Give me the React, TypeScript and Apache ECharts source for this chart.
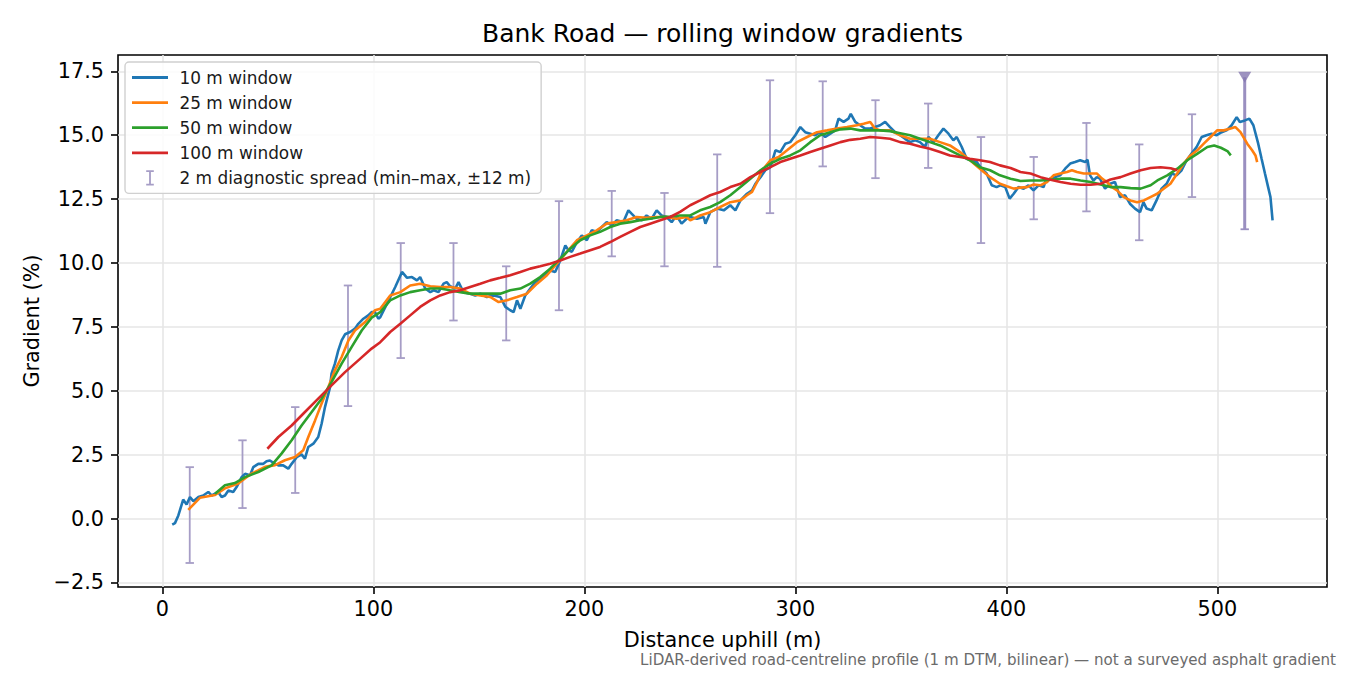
import React, { useEffect, useRef } from 'react';
import * as echarts from 'echarts';

// rolling-window gradients, [distance m, gradient %]
const win10: [number, number][] = [
  [4.7, -0.24], [6.0, -0.18], [7.6, 0.12], [9.9, 0.74], [11.5, 0.55], [13.1, 0.84], [14.7, 0.68], [17.1, 0.84],
  [19.4, 0.9], [21.8, 1.04], [23.4, 0.9], [25.0, 0.97], [26.5, 1.04], [28.1, 0.84], [29.7, 0.9], [31.3, 1.1],
  [33.6, 1.04], [35.2, 1.23], [37.6, 1.62], [39.2, 1.75], [41.6, 1.69], [43.1, 2.01], [45.5, 2.14], [47.9, 2.14],
  [49.4, 2.24], [51.0, 2.27], [53.4, 2.14], [55.0, 2.08], [57.3, 2.08], [59.7, 1.95], [61.3, 2.14], [63.7, 2.4],
  [66.0, 2.51], [67.6, 2.34], [69.2, 2.8], [71.6, 2.93], [73.9, 3.19], [75.5, 3.71], [77.1, 4.36], [79.5, 5.14],
  [80.2, 5.67], [81.8, 6.06], [83.4, 6.58], [85.0, 6.97], [86.6, 7.21], [89.0, 7.3], [91.3, 7.43], [92.9, 7.62],
  [95.3, 7.82], [97.6, 7.95], [99.2, 8.08], [100.8, 8.08], [102.4, 7.82], [103.3, 7.88], [106.5, 8.41], [110.4, 9.06],
  [113.6, 9.65], [116.0, 9.42], [118.3, 9.45], [120.7, 9.32], [122.2, 9.45], [124.6, 9.0], [127.0, 8.86], [128.6, 8.93],
  [130.9, 8.86], [133.3, 9.19], [134.8, 9.25], [136.4, 9.09], [138.8, 9.0], [140.4, 9.25], [142.7, 8.86], [145.9, 8.8],
  [148.3, 8.73], [150.7, 8.8], [153.8, 8.67], [157.0, 8.73], [160.2, 8.67], [162.6, 8.28], [164.9, 8.15], [166.5, 8.08],
  [168.1, 8.54], [169.7, 8.21], [172.0, 8.73], [174.4, 9.0], [176.8, 9.25], [179.1, 9.39], [181.5, 9.52], [183.8, 9.71],
  [186.2, 9.65], [188.6, 10.1], [191.0, 10.69], [192.5, 10.5], [194.1, 10.44], [196.5, 10.82], [198.8, 11.08], [201.2, 10.89],
  [203.5, 11.28], [205.9, 11.22], [208.3, 11.41], [210.6, 11.6], [213.0, 11.47], [215.3, 11.67], [218.5, 11.6], [220.9, 12.06],
  [222.4, 11.93], [224.8, 11.73], [227.2, 11.67], [229.5, 11.86], [231.9, 11.73], [234.3, 12.06], [236.6, 11.86], [239.0, 11.8],
  [241.4, 11.6], [243.7, 11.86], [246.1, 11.54], [248.5, 11.73], [250.2, 11.8], [253.4, 11.73], [256.6, 11.8], [257.4, 11.54],
  [259.7, 11.99], [262.9, 12.13], [266.1, 12.06], [269.2, 12.26], [271.6, 12.06], [274.0, 12.45], [277.1, 12.71], [279.5, 12.84],
  [281.1, 13.1], [283.5, 13.36], [285.8, 13.63], [288.2, 13.75], [290.6, 14.41], [292.9, 14.34], [295.3, 14.67], [297.6, 14.73],
  [300.0, 15.0], [302.4, 15.32], [304.7, 15.12], [307.1, 15.06], [309.5, 15.0], [311.8, 15.12], [314.2, 14.93], [316.6, 15.06],
  [318.9, 15.19], [320.5, 15.65], [322.9, 15.52], [325.2, 15.65], [326.3, 15.84], [328.4, 15.52], [330.7, 15.39], [333.1, 15.26],
  [335.5, 15.26], [337.8, 15.32], [340.2, 15.39], [342.6, 15.52], [344.9, 15.32], [347.3, 15.12], [349.7, 15.0], [352.0, 14.86],
  [354.4, 14.73], [356.8, 14.8], [359.1, 14.73], [361.5, 14.54], [363.1, 14.93], [365.5, 14.73], [367.8, 15.0], [370.2, 15.26],
  [372.6, 15.06], [374.9, 14.8], [376.5, 14.93], [378.9, 14.54], [381.2, 14.08], [383.6, 14.02], [386.0, 13.95], [388.3, 13.69],
  [390.7, 13.5], [393.1, 13.04], [395.4, 12.97], [397.2, 13.04], [399.5, 12.97], [401.6, 12.52], [403.5, 12.71], [405.8, 12.97],
  [408.2, 12.91], [410.5, 13.04], [412.9, 12.84], [415.3, 13.04], [417.7, 12.97], [418.4, 13.17], [420.8, 13.3], [423.2, 13.36],
  [425.5, 13.43], [427.9, 13.69], [430.3, 13.89], [432.6, 13.95], [435.0, 14.02], [437.4, 13.95], [438.5, 14.04], [439.7, 13.43],
  [441.3, 13.23], [442.9, 13.36], [444.4, 13.3], [446.8, 12.91], [449.2, 13.1], [451.5, 13.17], [453.9, 12.58], [456.3, 12.65],
  [458.6, 12.32], [461.0, 12.13], [463.4, 11.99], [465.0, 12.38], [466.5, 12.13], [468.9, 12.06], [471.2, 12.45], [473.6, 12.91],
  [476.0, 13.1], [478.4, 13.5], [480.7, 13.43], [483.1, 13.63], [485.5, 14.02], [487.8, 14.28], [490.2, 14.54], [492.6, 14.93],
  [494.9, 15.0], [497.3, 15.06], [499.7, 15.0], [502.1, 15.12], [504.4, 15.19], [506.8, 15.39], [509.2, 15.71], [510.7, 15.52],
  [513.1, 15.58], [515.2, 15.65], [517.1, 15.39], [519.4, 14.67], [521.0, 14.08], [522.6, 13.5], [524.1, 12.97], [525.2, 12.58],
  [526.2, 11.67],
];

const win25: [number, number][] = [
  [12.3, 0.34], [17.8, 0.81], [25.0, 0.92], [29.7, 1.18], [36.0, 1.37], [42.3, 1.76], [48.7, 2.02], [53.4, 2.09],
  [58.1, 2.28], [62.9, 2.41], [66.8, 2.67], [69.2, 3.19], [72.4, 3.84], [75.5, 4.5], [78.7, 5.15], [81.8, 5.8],
  [85.0, 6.32], [88.2, 6.97], [91.3, 7.36], [96.1, 7.69], [100.8, 8.15], [103.3, 8.21], [108.0, 8.73], [112.8, 8.86],
  [117.5, 9.12], [122.2, 9.19], [127.0, 9.09], [131.7, 9.06], [136.4, 9.06], [141.2, 9.0], [145.9, 8.8], [150.7, 8.73],
  [155.4, 8.67], [159.4, 8.47], [163.3, 8.54], [168.1, 8.67], [172.8, 8.8], [177.6, 9.19], [182.3, 9.52], [187.0, 9.97],
  [191.8, 10.44], [196.5, 10.89], [201.2, 11.08], [205.9, 11.28], [210.6, 11.54], [215.3, 11.6], [220.1, 11.67], [224.8, 11.8],
  [229.5, 11.77], [234.3, 11.8], [239.0, 11.8], [243.7, 11.73], [248.5, 11.8], [250.2, 11.67], [254.9, 11.86], [259.7, 11.99],
  [264.4, 12.19], [269.2, 12.38], [274.0, 12.45], [277.1, 12.65], [279.5, 12.78], [281.9, 13.17], [284.3, 13.63], [288.2, 14.02],
  [292.1, 14.15], [296.1, 14.41], [300.8, 14.73], [305.6, 14.93], [310.3, 15.12], [315.1, 15.19], [319.8, 15.26], [324.5, 15.32],
  [329.2, 15.39], [332.4, 15.45], [335.5, 15.52], [337.8, 15.26], [340.2, 15.19], [344.9, 15.19], [349.7, 15.0], [354.4, 14.86],
  [359.1, 14.86], [363.8, 14.86], [368.6, 14.73], [373.3, 14.6], [378.1, 14.34], [382.8, 14.02], [387.5, 13.69], [392.3, 13.36],
  [397.0, 13.1], [400.3, 13.0], [403.5, 12.91], [406.6, 12.95], [409.8, 12.97], [413.0, 13.07], [416.1, 13.04], [419.3, 13.17],
  [422.4, 13.43], [425.6, 13.5], [428.8, 13.56], [431.1, 13.63], [433.5, 13.56], [436.7, 13.5], [439.8, 13.5], [443.0, 13.5],
  [445.4, 13.3], [447.7, 13.17], [450.1, 12.97], [452.5, 12.84], [455.7, 12.58], [458.8, 12.45], [462.0, 12.38], [465.2, 12.45],
  [468.3, 12.58], [471.5, 12.71], [474.6, 12.91], [477.8, 13.1], [481.0, 13.5], [484.1, 13.89], [487.3, 14.21], [490.5, 14.41],
  [493.6, 14.67], [496.8, 14.93], [499.9, 15.19], [503.1, 15.19], [506.3, 15.26], [508.6, 15.32], [511.0, 15.12], [514.2, 14.67],
  [516.5, 14.41], [518.1, 14.21], [518.9, 13.95],
];

const win50: [number, number][] = [
  [25.0, 0.97], [29.7, 1.3], [34.4, 1.39], [39.2, 1.62], [45.5, 1.82], [51.8, 2.08], [56.5, 2.54], [61.3, 3.06],
  [66.0, 3.64], [70.8, 4.17], [75.5, 4.69], [80.2, 5.34], [85.0, 6.06], [89.7, 6.71], [94.5, 7.36], [99.2, 7.86],
  [103.3, 8.08], [108.0, 8.54], [112.8, 8.73], [117.5, 8.86], [122.2, 8.93], [127.0, 9.0], [131.7, 9.0], [136.4, 8.93],
  [141.2, 8.86], [145.9, 8.8], [150.7, 8.8], [155.4, 8.8], [160.2, 8.8], [164.9, 8.93], [169.7, 9.0], [174.4, 9.19],
  [179.1, 9.45], [183.8, 9.78], [188.6, 10.17], [193.3, 10.56], [198.1, 10.89], [202.8, 11.08], [207.5, 11.22], [212.3, 11.41],
  [217.0, 11.54], [221.8, 11.6], [226.5, 11.67], [231.2, 11.73], [236.0, 11.8], [240.7, 11.82], [245.4, 11.86], [250.2, 11.86],
  [254.9, 12.06], [259.7, 12.19], [264.4, 12.38], [269.2, 12.65], [274.0, 12.97], [278.7, 13.3], [283.5, 13.63], [288.2, 13.89],
  [292.9, 14.08], [297.6, 14.21], [302.4, 14.41], [307.1, 14.73], [311.8, 15.0], [316.6, 15.12], [321.4, 15.23], [326.1, 15.26],
  [330.8, 15.19], [335.5, 15.19], [340.2, 15.19], [344.9, 15.16], [349.7, 15.08], [354.4, 15.0], [359.1, 14.86], [363.8, 14.73],
  [368.6, 14.6], [373.3, 14.41], [378.1, 14.21], [382.8, 14.02], [387.5, 13.75], [392.3, 13.63], [397.0, 13.43], [402.0, 13.3],
  [406.7, 13.21], [411.5, 13.23], [416.2, 13.23], [421.0, 13.26], [425.7, 13.3], [430.5, 13.3], [435.2, 13.23], [440.0, 13.17],
  [444.7, 13.07], [449.4, 12.97], [454.2, 12.97], [458.9, 12.93], [463.7, 12.91], [468.4, 13.04], [471.6, 13.23], [476.3, 13.43],
  [481.1, 13.69], [485.8, 14.02], [490.6, 14.28], [495.3, 14.54], [498.5, 14.6], [501.7, 14.51], [504.8, 14.38], [506.4, 14.21],
];

const win100: [number, number][] = [
  [49.8, 2.73], [55.0, 3.19], [61.3, 3.64], [67.6, 4.17], [73.9, 4.69], [80.2, 5.21], [86.6, 5.73], [92.9, 6.19],
  [99.2, 6.65], [103.3, 6.9], [108.0, 7.3], [112.8, 7.62], [117.5, 7.95], [122.2, 8.28], [127.0, 8.54], [131.7, 8.73],
  [136.4, 8.86], [141.2, 8.93], [145.9, 9.06], [150.7, 9.19], [155.4, 9.32], [160.2, 9.42], [164.9, 9.52], [169.7, 9.65],
  [174.4, 9.78], [179.1, 9.87], [183.8, 9.97], [188.6, 10.1], [193.3, 10.24], [198.1, 10.37], [202.8, 10.5], [207.5, 10.63],
  [212.3, 10.82], [217.0, 11.02], [221.8, 11.22], [226.5, 11.41], [231.2, 11.54], [236.0, 11.67], [240.7, 11.8], [245.4, 12.0],
  [250.2, 12.26], [254.9, 12.45], [259.7, 12.65], [264.4, 12.78], [269.2, 12.97], [274.0, 13.1], [278.7, 13.36], [283.5, 13.56],
  [288.2, 13.75], [292.9, 13.95], [297.6, 14.08], [302.4, 14.21], [307.1, 14.34], [311.8, 14.47], [316.6, 14.6], [321.4, 14.73],
  [326.1, 14.82], [330.8, 14.86], [335.5, 14.93], [340.2, 14.9], [344.9, 14.86], [349.7, 14.73], [354.4, 14.67], [359.1, 14.56],
  [363.8, 14.47], [368.6, 14.34], [373.3, 14.21], [378.1, 14.15], [382.8, 14.08], [387.5, 14.02], [392.3, 13.95], [397.0, 13.82],
  [402.0, 13.72], [406.7, 13.56], [411.5, 13.5], [416.2, 13.36], [421.0, 13.26], [425.7, 13.17], [430.5, 13.1], [435.2, 13.06],
  [440.0, 13.06], [444.7, 13.1], [449.4, 13.27], [454.2, 13.36], [458.9, 13.5], [463.7, 13.63], [468.4, 13.72], [473.1, 13.75],
  [477.9, 13.71], [481.1, 13.63],
];

// 2 m diagnostic spread (min–max over ±12 m)
const spreadX = [13, 38, 63, 88, 113, 138, 163, 188, 213, 238, 263, 288, 313, 338, 363, 388, 413, 438, 463, 488, 513];
const spreadLo = [-1.74, 0.41, 1.0, 4.4, 6.28, 7.75, 6.97, 8.15, 10.26, 9.87, 9.85, 11.95, 13.78, 13.32, 13.72, 10.78, 11.71, 12.02, 10.89, 12.58, 11.32];
const spreadHi = [2.01, 3.06, 4.36, 9.12, 10.78, 10.78, 9.87, 12.42, 12.82, 12.74, 14.25, 17.15, 17.11, 16.37, 16.24, 14.93, 14.15, 15.48, 14.64, 15.82, 17.27];
const spreadClipped = [0, 0, 0, 0, 0, 0, 0, 0, 0, 0, 0, 0, 0, 0, 0, 0, 0, 0, 0, 0, 1];
const clipMarker: [number, number][] = [[513, 17.27]];

const xTicks = [0, 100, 200, 300, 400, 500];
const yTicks = [-2.5, 0, 2.5, 5, 7.5, 10, 12.5, 15, 17.5];

const seriesNames = ['10 m window', '25 m window', '50 m window', '100 m window'];
const spreadName = '2 m diagnostic spread (min–max, ±12 m)';

const FONT = '"DejaVu Sans", Verdana, sans-serif';
const COLORS = ['#1f77b4', '#ff7f0e', '#2ca02c', '#d62728'];
const BAR_COLOR = '#a69dc6';
const CLIP_COLOR = '#9a8fc0';

// thin bar inside a 36x16 box (extra moveTo points fix the bbox)
const LINE_ICON = 'path://M0,0 M36,16 M0,6.6 L36,6.6 L36,9.4 L0,9.4 Z';
const IBEAM_ICON =
  'path://M0,0 M36,16 M14.2,0.4 L21.8,0.4 L21.8,2.2 L18.9,2.2 L18.9,13.8 L21.8,13.8 L21.8,15.6 L14.2,15.6 L14.2,13.8 L17.1,13.8 L17.1,2.2 L14.2,2.2 Z';

const fmtY = (v: number) => (v < 0 ? '\u2212' : '') + Math.abs(v).toFixed(1);

const App: React.FC = () => {
  const chartRef = useRef<HTMLDivElement>(null);

  useEffect(() => {
    document.body.style.margin = '0';
    if (!chartRef.current) return;
    const chart = echarts.init(chartRef.current, undefined, { renderer: 'svg' });

    const spreadData = spreadX.map((x, i) => [x, spreadLo[i], spreadHi[i], spreadClipped[i]]);

    const lineSeries = [win10, win25, win50, win100].map((data, i) => ({
      name: seriesNames[i],
      type: 'line' as const,
      data,
      symbol: 'none',
      lineStyle: { width: 2.6, color: COLORS[i] },
      itemStyle: { color: COLORS[i] },
      z: 3 + i,
    }));

    const option: any = {
      animation: false,
      backgroundColor: '#fff',
      textStyle: { fontFamily: FONT },
      grid: {
        left: 118,
        right: 23,
        top: 55,
        bottom: 88,
        show: true,
        borderColor: '#000',
        borderWidth: 1.6,
        backgroundColor: 'transparent',
        containLabel: false,
        outerBoundsMode: 'none',
      },
      legend: {
        orient: 'vertical',
        left: 125,
        top: 62,
        padding: [7, 10, 7, 7],
        itemWidth: 36,
        itemHeight: 16,
        itemGap: 8.1,
        backgroundColor: 'rgba(255,255,255,0.85)',
        borderColor: '#d0d0d0',
        borderWidth: 1.4,
        borderRadius: 4,
        itemStyle: { borderWidth: 0 },
        textStyle: { fontFamily: FONT, fontSize: 16.9, color: '#1a1a1a', padding: [0, 0, 0, 6.5], lineHeight: 17 },
        data: [
          ...seriesNames.map((name) => ({ name, icon: LINE_ICON })),
          { name: spreadName, icon: IBEAM_ICON },
        ],
      },
      xAxis: {
        type: 'value',
        min: -21,
        max: 552,
        name: 'Distance uphill (m)',
        nameLocation: 'middle',
        nameGap: 42,
        nameTextStyle: { fontFamily: FONT, fontSize: 20.8, color: '#000' },
        axisLine: { show: false, onZero: false },
        axisTick: { show: true, inside: false, length: 7, customValues: xTicks, lineStyle: { color: '#000', width: 1.6 } },
        axisLabel: { customValues: xTicks, margin: 11, fontFamily: FONT, fontSize: 20.8, color: '#000' },
        splitLine: { show: true, lineStyle: { color: '#e6e6e6', width: 1.6 } },
      },
      yAxis: {
        type: 'value',
        min: -2.68,
        max: 18.14,
        name: 'Gradient (%)',
        nameLocation: 'middle',
        nameGap: 74,
        nameTextStyle: { fontFamily: FONT, fontSize: 20.8, color: '#000' },
        axisLine: { show: false, onZero: false },
        axisTick: { show: true, inside: false, length: 7, customValues: yTicks, lineStyle: { color: '#000', width: 1.6 } },
        axisLabel: { customValues: yTicks, margin: 14, fontFamily: FONT, fontSize: 20.8, color: '#000', formatter: fmtY },
        splitLine: { show: true, lineStyle: { color: '#e6e6e6', width: 1.6 } },
      },
      graphic: [
        {
          type: 'text',
          x: 722.5,
          y: 33,
          style: {
            text: 'Bank Road — rolling window gradients',
            font: `25px ${FONT}`,
            fill: '#000',
            textAlign: 'center',
            textVerticalAlign: 'middle',
          },
        },
        {
          type: 'text',
          x: 1336,
          y: 660,
          style: {
            text: 'LiDAR-derived road-centreline profile (1 m DTM, bilinear) — not a surveyed asphalt gradient',
            font: `15.1px ${FONT}`,
            fill: '#6b6b6b',
            textAlign: 'right',
            textVerticalAlign: 'middle',
          },
        },
      ],
      series: [
        {
          name: spreadName,
          type: 'custom',
          data: spreadData,
          encode: { x: 0, y: [1, 2] },
          itemStyle: { color: BAR_COLOR },
          z: 2,
          clip: true,
          renderItem: (_params: any, api: any) => {
            const x = api.value(0);
            const lo = api.coord([x, api.value(1)]);
            const hi = api.coord([x, api.value(2)]);
            const clipped = api.value(3) === 1;
            const style = { stroke: clipped ? CLIP_COLOR : BAR_COLOR, lineWidth: clipped ? 3 : 1.8 };
            const cap = 4.2;
            const children: any[] = [
              { type: 'line', shape: { x1: lo[0], y1: lo[1], x2: hi[0], y2: hi[1] }, style },
              { type: 'line', shape: { x1: lo[0] - cap, y1: lo[1], x2: lo[0] + cap, y2: lo[1] }, style: { stroke: style.stroke, lineWidth: 1.8 } },
            ];
            if (!clipped) {
              children.push({ type: 'line', shape: { x1: hi[0] - cap, y1: hi[1], x2: hi[0] + cap, y2: hi[1] }, style: { stroke: style.stroke, lineWidth: 1.8 } });
            }
            return { type: 'group', children };
          },
        },
        ...lineSeries,
        {
          name: 'clipped max',
          type: 'scatter',
          data: clipMarker,
          symbol: 'triangle',
          symbolRotate: 180,
          symbolSize: [13, 11],
          itemStyle: { color: '#8577b0' },
          z: 8,
        },
      ],
    };

    chart.setOption(option);
    return () => {
      chart.dispose();
    };
  }, []);

  return <div ref={chartRef} style={{ width: 1350, height: 675 }} />;
};

export default App;
